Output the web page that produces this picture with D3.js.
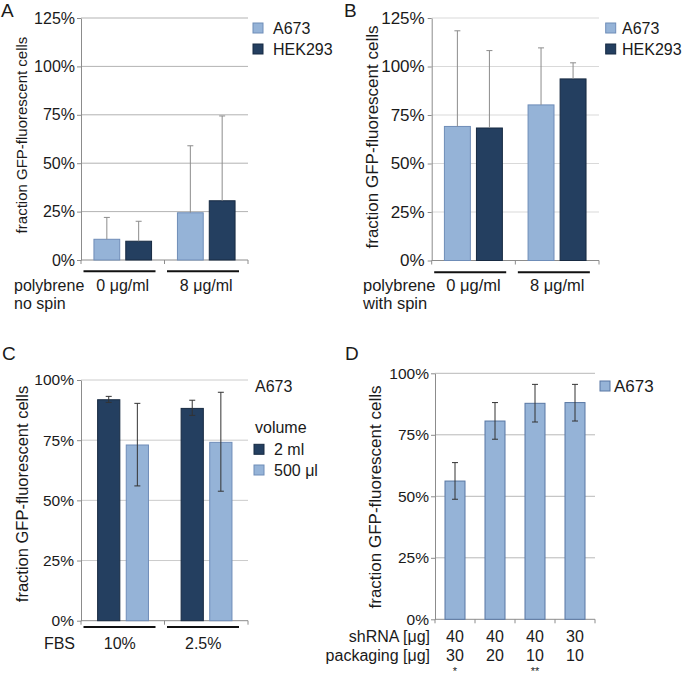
<!DOCTYPE html>
<html>
<head>
<meta charset="utf-8">
<script src="https://cdn.jsdelivr.net/npm/d3@7"></script>
<style>
  html, body { margin: 0; padding: 0; background: #fff; }
  svg { display: block; font-family: "Liberation Sans", Arial, sans-serif; }
</style>
</head>
<body>
<svg id="chart" width="683" height="677"></svg>
<script>
// ---------- DATA ----------
const yTicksAB = [0, 0.25, 0.5, 0.75, 1.0, 1.25];
const yTicksCD = [0, 0.25, 0.5, 0.75, 1.0];
const yTitle = "fraction GFP-fluorescent cells";

// Panel A: polybrene, no spin
const catsA = ["0 μg/ml", "8 μg/ml"];
const seriesA = ["A673", "HEK293"];
const valsA_A673 = [0.107, 0.244];
const errA_A673 = [0.22, 0.59];
const valsA_HEK = [0.097, 0.306];
const errA_HEK = [0.20, 0.744];

// Panel B: polybrene, with spin
const catsB = ["0 μg/ml", "8 μg/ml"];
const seriesB = ["A673", "HEK293"];
const valsB_A673 = [0.691, 0.802];
const errB_A673 = [1.184, 1.096];
const valsB_HEK = [0.683, 0.936];
const errB_HEK = [1.082, 1.019];

// Panel C: FBS x volume (A673)
const catsC = ["10%", "2.5%"];
const seriesC = ["2 ml", "500 μl"];
const valsC_2ml = [0.918, 0.882];
const hiC_2ml = [0.932, 0.916];
const loC_2ml = [0.907, 0.853];
const valsC_500 = [0.730, 0.741];
const hiC_500 = [0.903, 0.949];
const loC_500 = [0.560, 0.538];

// Panel D: shRNA / packaging (A673)
const shRNA = ["40", "40", "40", "30"];
const packaging = ["30", "20", "10", "10"];
const signif = ["*", "", "**", ""];
const valsD = [0.562, 0.806, 0.878, 0.881];
const hiD = [0.637, 0.881, 0.955, 0.955];
const loD = [0.488, 0.732, 0.802, 0.806];

// ---------- STYLE ----------
const LIGHT = "#95b3d7", LIGHT_STROKE = "#6f8db8";
const DARK = "#243f60", DARK_STROKE = "#172a42";
const TEXT = "#1a1a1a";

const svg = d3.select("#chart");

function drawPanel(p) {
  const g = svg.append("g");
  const y = d3.scaleLinear().domain([0, p.ymax]).range([p.y0, p.y1]);
  const x0 = d3.scaleBand().domain(p.categories.map((c, i) => i)).range([p.xl, p.xr]);
  const bw = x0.bandwidth();
  const x1 = d3.scaleBand().domain(p.series.map(s => s.name))
    .range([bw * p.inStart, bw * p.inEnd]).paddingInner(p.inPad);

  // gridlines
  g.selectAll("line.grid").data(p.ticks.filter(t => t > 0)).join("line")
    .attr("x1", p.xl).attr("x2", p.xr)
    .attr("y1", d => y(d)).attr("y2", d => y(d))
    .attr("stroke", p.gridColor).attr("stroke-width", 1);

  // y axis
  const ax = g.append("g").attr("transform", `translate(${p.xl},0)`)
    .call(d3.axisLeft(y).tickValues(p.ticks).tickSize(4).tickSizeOuter(0)
      .tickPadding(p.tickPad).tickFormat(d3.format(".0%")));
  ax.select(".domain").attr("stroke", p.axisColor);
  ax.selectAll(".tick line").attr("stroke", p.axisColor);
  ax.selectAll(".tick text").attr("fill", TEXT).style("font-size", p.tickFont + "px")
    .style("font-family", "'Liberation Sans', Arial, sans-serif");

  // baseline + bottom ticks at category boundaries
  g.append("line").attr("x1", p.xl).attr("x2", p.xr)
    .attr("y1", y(0)).attr("y2", y(0)).attr("stroke", p.axisColor);
  const bounds = p.categories.map((c, i) => x0(i)).concat([p.xr]);
  g.selectAll("line.bt").data(bounds).join("line")
    .attr("x1", d => d).attr("x2", d => d)
    .attr("y1", y(0)).attr("y2", y(0) + 4).attr("stroke", p.axisColor);

  // bars
  p.series.forEach(s => {
    p.categories.forEach((c, i) => {
      const bx = x0(i) + x1(s.name);
      const v = s.values[i];
      g.append("rect").attr("x", bx).attr("y", y(v))
        .attr("width", x1.bandwidth()).attr("height", y(0) - y(v))
        .attr("fill", s.fill).attr("stroke", s.stroke).attr("stroke-width", 1);
    });
  });
  // error bars
  p.series.forEach(s => {
    p.categories.forEach((c, i) => {
      const cx = x0(i) + x1(s.name) + x1.bandwidth() / 2;
      const lo = s.lo ? s.lo[i] : s.values[i];
      const hi = s.hi[i];
      const eg = g.append("g").attr("stroke", p.errColor).attr("stroke-width", 1);
      eg.append("line").attr("x1", cx).attr("x2", cx).attr("y1", y(lo)).attr("y2", y(hi));
      eg.append("line").attr("x1", cx - 3).attr("x2", cx + 3).attr("y1", y(hi)).attr("y2", y(hi));
      if (s.lo) eg.append("line").attr("x1", cx - 3).attr("x2", cx + 3).attr("y1", y(lo)).attr("y2", y(lo));
    });
  });

  // y title
  g.append("text").attr("transform", `translate(${p.titleX},${p.titleY}) rotate(-90)`)
    .attr("text-anchor", "middle").attr("fill", TEXT)
    .style("font-size", p.titleFont + "px").text(yTitle);

  // panel letter
  g.append("text").attr("x", p.letterX).attr("y", p.letterY).attr("fill", TEXT)
    .style("font-size", "19px").text(p.letter);

  return { g, x0, y, bw };
}

function legendItems(g, items, x, y0, dy, font, textX) {
  items.forEach((it, i) => {
    const yy = y0 + i * dy;
    g.append("rect").attr("x", x).attr("y", yy).attr("width", 10).attr("height", 10)
      .attr("fill", it.fill).attr("stroke", it.stroke);
    g.append("text").attr("x", textX).attr("y", yy + 10.5).attr("fill", TEXT)
      .style("font-size", font + "px").text(it.name);
  });
}

function groupLabels(P, cats, lineY, labelY, font, dx) {
  cats.forEach((c, i) => {
    const bx = P.x0(i);
    P.g.append("line").attr("x1", bx + 2.5).attr("x2", bx + 74.5)
      .attr("y1", lineY).attr("y2", lineY).attr("stroke", "#111").attr("stroke-width", 2);
    P.g.append("text").attr("x", bx + P.bw / 2 + dx).attr("y", labelY)
      .attr("text-anchor", "middle").attr("fill", TEXT)
      .style("font-size", font + "px").text(c);
  });
}

// ---------- PANEL A ----------
const sA = [
  { name: seriesA[0], values: valsA_A673, hi: errA_A673, fill: LIGHT, stroke: LIGHT_STROKE },
  { name: seriesA[1], values: valsA_HEK, hi: errA_HEK, fill: DARK, stroke: DARK_STROKE }
];
const PA = drawPanel({
  categories: catsA, series: sA, ymax: 1.25, ticks: yTicksAB,
  xl: 81, xr: 248, y0: 260, y1: 18, inStart: 0.155, inEnd: 0.845, inPad: 0.19,
  gridColor: "#b3b3b3", axisColor: "#8c8c8c", errColor: "#8c8c8c",
  tickFont: 16, tickPad: 2, titleX: 26.5, titleY: 135, titleFont: 15,
  letter: "A", letterX: 1, letterY: 17
});
legendItems(PA.g, sA, 253, 23, 21, 16, 273);
groupLabels(PA, catsA, 271.3, 291, 16, 0);
PA.g.append("text").attr("x", 14).attr("y", 291).attr("fill", TEXT).style("font-size", "16px").text("polybrene");
PA.g.append("text").attr("x", 14).attr("y", 309).attr("fill", TEXT).style("font-size", "16px").text("no spin");

// ---------- PANEL B ----------
const sB = [
  { name: seriesB[0], values: valsB_A673, hi: errB_A673, fill: LIGHT, stroke: LIGHT_STROKE },
  { name: seriesB[1], values: valsB_HEK, hi: errB_HEK, fill: DARK, stroke: DARK_STROKE }
];
const PB = drawPanel({
  categories: catsB, series: sB, ymax: 1.25, ticks: yTicksAB,
  xl: 431.7, xr: 599, y0: 260.5, y1: 18, inStart: 0.152, inEnd: 0.845, inPad: 0.19,
  gridColor: "#d9d9d9", axisColor: "#8c8c8c", errColor: "#8c8c8c",
  tickFont: 17, tickPad: 3, titleX: 378, titleY: 137, titleFont: 17,
  letter: "B", letterX: 344, letterY: 17
});
legendItems(PB.g, sB, 605.7, 23, 21, 16, 622);
groupLabels(PB, catsB, 272.3, 291, 16.5, 0);
PB.g.append("text").attr("x", 363).attr("y", 291).attr("fill", TEXT).style("font-size", "16.5px").text("polybrene");
PB.g.append("text").attr("x", 363).attr("y", 309).attr("fill", TEXT).style("font-size", "16.5px").text("with spin");

// ---------- PANEL C ----------
const sC = [
  { name: seriesC[0], values: valsC_2ml, hi: hiC_2ml, lo: loC_2ml, fill: DARK, stroke: DARK_STROKE },
  { name: seriesC[1], values: valsC_500, hi: hiC_500, lo: loC_500, fill: LIGHT, stroke: LIGHT_STROKE }
];
const PC = drawPanel({
  categories: catsC, series: sC, ymax: 1.0, ticks: yTicksCD,
  xl: 81, xr: 248, y0: 620.7, y1: 380, inStart: 0.199, inEnd: 0.808, inPad: 0.224,
  gridColor: "#cccccc", axisColor: "#8c8c8c", errColor: "#333333",
  tickFont: 15.5, tickPad: 3, titleX: 28, titleY: 494, titleFont: 16.5,
  letter: "C", letterX: 2, letterY: 360
});
PC.g.append("text").attr("x", 255).attr("y", 391.7).attr("fill", TEXT).style("font-size", "16px").text("A673");
PC.g.append("text").attr("x", 255).attr("y", 433.3).attr("fill", TEXT).style("font-size", "16px").text("volume");
legendItems(PC.g, sC, 254, 444.3, 20.7, 16, 274);
groupLabels(PC, catsC, 627, 649, 16, -3);
PC.g.append("text").attr("x", 75).attr("y", 649).attr("text-anchor", "end").attr("fill", TEXT).style("font-size", "16px").text("FBS");

// ---------- PANEL D ----------
const catsD = shRNA.map((s, i) => s + "/" + packaging[i]);
const sD = [
  { name: "A673", values: valsD, hi: hiD, lo: loD, fill: LIGHT, stroke: "#5877a3" }
];
const PD = drawPanel({
  categories: catsD, series: sD, ymax: 1.0, ticks: yTicksCD,
  xl: 435, xr: 595, y0: 619.3, y1: 373.3, inStart: 0.25, inEnd: 0.75, inPad: 0,
  gridColor: "#b8b8b8", axisColor: "#8c8c8c", errColor: "#333333",
  tickFont: 15.5, tickPad: 2, titleX: 381, titleY: 497, titleFont: 17,
  letter: "D", letterX: 345, letterY: 360
});
legendItems(PD.g, sD, 600, 381, 20, 17, 614);
[["shRNA [μg]", shRNA, 642, 16], ["packaging [μg]", packaging, 661, 16], ["", signif, 674.5, 11]].forEach(([lab, arr, by, fs]) => {
  if (lab) PD.g.append("text").attr("x", 430).attr("y", by).attr("text-anchor", "end")
    .attr("fill", TEXT).style("font-size", fs + "px").text(lab);
  arr.forEach((v, i) => {
    PD.g.append("text").attr("x", PD.x0(i) + PD.bw / 2).attr("y", by)
      .attr("text-anchor", "middle").attr("fill", TEXT).style("font-size", fs + "px").text(v);
  });
});
</script>
</body>
</html>
